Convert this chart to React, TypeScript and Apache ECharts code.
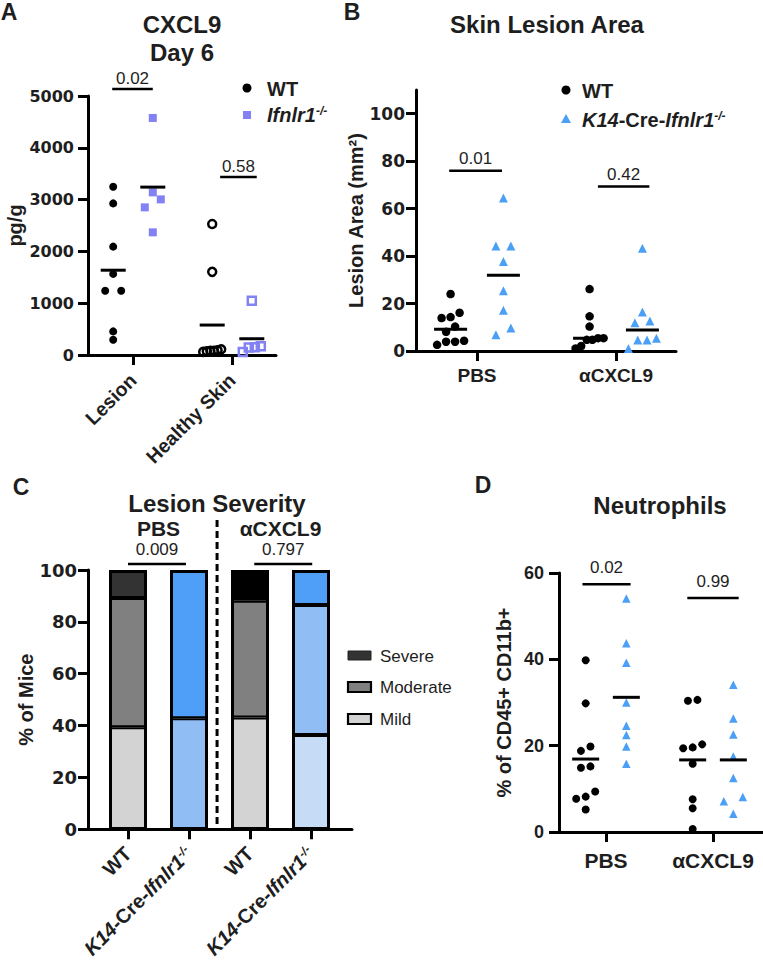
import React, { useEffect, useRef } from 'react';
import * as echarts from 'echarts';

const FONT = '"Liberation Sans", Arial, sans-serif';
const NUM_FONT = '"DejaVu Sans", sans-serif';
const INK = '#1e1e1e';
const BLUE_A = '#8282f5';
const BLUE_T = '#4ba0f5';

// ---------- Panel A : CXCL9 Day 6 (pg/g) ----------
const A_CATEGORIES = ['Lesion', 'Healthy Skin'];
const A_WT_LESION = [3248, 2927, 2092, 1566, 1239, 1239, 456, 295];
const A_KO_LESION = [4576, 3139, 3004, 2850, 2368];
const A_WT_HEALTHY = [2529, 1605, 110, 90, 60, 80, 70, 80];
const A_KO_HEALTHY = [1046, 170, 145, 150, 60];
const A_MEAN_WT = [1637, 578];
const A_MEAN_KO = [3241, 314];
const A_P_LABELS = ['0.02', '0.58'];
const A_P_HEIGHTS = [5135, 3436];
const A_P_SPANS = [[0.79, 1.2], [1.88, 2.25]];

// ---------- Panel B : Skin Lesion Area ----------
const B_CATEGORIES = ['PBS', 'αCXCL9'];
const B_WT = [
  [24, 16.1, 13.9, 14.3, 10.3, 8.1, 2.6, 4.3, 3.9, 3.9],
  [26.1, 14.6, 10.3, 4.7, 5.4, 5.4, 4.7, 1.1, 2.1],
];
const B_KO = [
  [64.5, 44.3, 44.3, 37.7, 25.4, 17.2, 9.7, 6.9],
  [43.3, 16.4, 11.9, 12.6, 5.4, 4.6, 4.6, 1.1],
];
const B_MEDIAN_WT = [9.2, 5.4];
const B_MEDIAN_KO = [31.9, 8.9];
const B_Y_TICKS = [0, 20, 40, 60, 80, 100];
const B_P_LABELS = ['0.01', '0.42'];
const B_P_HEIGHTS = [76, 69.3];
const B_P_SPANS = [[0.8, 1.18], [1.87, 2.24]];

// ---------- Panel C : Lesion Severity (% of mice) ----------
const C_GROUPS = ['WT', 'K14-Cre-Ifnlr1-/-', 'WT', 'K14-Cre-Ifnlr1-/-'];
const C_TREATMENTS = ['PBS', 'αCXCL9'];
const C_MILD = [39.5, 43.0, 43.3, 36.5];
const C_MODERATE = [49.7, 57.0, 44.9, 50.0];
const C_SEVERE = [10.8, 0, 11.8, 13.5];
const C_P_LABELS = ['0.009', '0.797'];
const C_P_HEIGHTS = [102.3, 102.3];
const C_P_SPANS = [[1.0, 1.95], [3.07, 4.02]];

// ---------- Panel D : Neutrophils ----------
const D_CATEGORIES = ['PBS', 'αCXCL9'];
const D_WT = [
  [39.8, 29.8, 19.8, 18.8, 15.2, 14.9, 9.4, 7.7, 8.2, 5.2],
  [30.6, 30.4, 19.4, 20.3, 19.6, 15.8, 7.6, 5.5, 0.7],
];
const D_KO = [
  [54.1, 43.7, 39.2, 30.0, 24.6, 22.5, 19.8, 15.8],
  [34.1, 26.3, 22.6, 17.5, 12.5, 8.1, 7.1, 4.2],
];
const D_MEAN_WT = [16.9, 16.7];
const D_MEAN_KO = [31.2, 16.7];
const D_P_LABELS = ['0.02', '0.99'];
const D_P_HEIGHTS = [57.4, 54.2];
const D_P_SPANS = [[0.78, 1.23], [1.76, 2.24]];

// ---------- styles ----------
const C_MILD_COLORS = ['#d3d3d3', '#91bdf5', '#d3d3d3', '#c6dcf6'];
const C_MOD_COLORS = ['#808080', '#4f9ef7', '#808080', '#91bdf5'];
const C_SEV_COLORS = ['#333333', '#4f9ef7', '#000000', '#4f9ef7'];

// layout (pixels)
const LA = { left: 88, top: 96, width: 188, height: 259, c1: 133, unit: 99, max: 5000 };
const LB = { left: 416, top: 90, width: 260, height: 261, c1: 477, unit: 139, max: 110 };
const LC = { left: 88, top: 570, width: 264, height: 260, c1: 128, unit: 61, max: 100 };
const LD = { left: 559, top: 573, width: 204, height: 259, c1: 606, unit: 107, max: 60 };

const xMin = (L: any) => 1 - (L.c1 - L.left) / L.unit;
const xMax = (L: any) => xMin(L) + L.width / L.unit;
const pxX = (L: any, v: number) => L.left + (v - xMin(L)) * L.unit;

type SwarmOpt = { pxY: number; pxX: number; marker: number; step: number; maxHalf: number };
function swarm(values: number[], center: number, o: SwarmOpt): number[][] {
  const idx = values.map((_, i) => i).sort((a, b) => values[a] - values[b]);
  const rows: number[][] = [];
  let cur: number[] = [];
  idx.forEach((i) => {
    if (cur.length) {
      const prev = values[cur[cur.length - 1]];
      const first = values[cur[0]];
      if ((values[i] - prev) * o.pxY < o.marker && (values[i] - first) * o.pxY < o.marker * 1.6) {
        cur.push(i);
        return;
      }
      rows.push(cur);
    }
    cur = [i];
  });
  if (cur.length) rows.push(cur);
  const out: number[][] = [];
  rows.forEach((r) => {
    const n = r.length;
    const step = n > 1 ? Math.min(o.step, (2 * o.maxHalf) / (n - 1)) : 0;
    r.forEach((i, k) => out.push([center + ((k - (n - 1) / 2) * step) / o.pxX, values[i]]));
  });
  return out;
}

const AXIS_LINE = { color: '#000', width: 3 };

function xAxisFor(idx: number, L: any, labels: string[], labelOpts: any) {
  const ticks = labels.map((_, i) => i + 1);
  return {
    type: 'value', gridIndex: idx, min: xMin(L), max: xMax(L),
    axisLine: { show: true, onZero: false, lineStyle: AXIS_LINE },
    axisTick: { show: true, customValues: ticks, length: 10, lineStyle: AXIS_LINE },
    axisLabel: {
      show: true, customValues: ticks, color: INK, fontFamily: FONT, fontWeight: 'bold',
      formatter: (v: number) => labels[Math.round(v) - 1] ?? '',
      ...labelOpts,
    },
    splitLine: { show: false },
  };
}

function yAxisFor(idx: number, L: any, interval: number, name: string, nameGap: number,
  labelFont: string, labelSize: number, margin: number, ticks?: number[]) {
  const custom = ticks ? { customValues: ticks } : {};
  return {
    type: 'value', gridIndex: idx, min: 0, max: L.max, interval,
    axisLine: { show: true, onZero: false, lineStyle: AXIS_LINE },
    axisTick: { show: true, length: 10, lineStyle: AXIS_LINE, ...custom },
    axisLabel: {
      margin, color: INK, fontFamily: labelFont, fontWeight: 'bold', fontSize: labelSize,
      formatter: (v: number) => String(v), ...custom,
    },
    splitLine: { show: false },
    name, nameLocation: 'middle', nameGap, nameRotate: 90,
    nameTextStyle: { color: INK, fontFamily: FONT, fontWeight: 'bold', fontSize: 20 },
  };
}

function sigSeries(axis: number, spans: number[][], heights: number[], labels: string[], lift: number) {
  return {
    type: 'custom', xAxisIndex: axis, yAxisIndex: axis, clip: false, silent: true, z: 6,
    data: spans.map((s, i) => [s[0], s[1], heights[i]]),
    renderItem: (params: any, api: any) => {
      const y = api.value(2);
      const p1 = api.coord([api.value(0), y]);
      const p2 = api.coord([api.value(1), y]);
      return {
        type: 'group',
        children: [
          { type: 'line', shape: { x1: p1[0], y1: p1[1], x2: p2[0], y2: p2[1] }, style: { stroke: '#000', lineWidth: 2.5 } },
          {
            type: 'text', x: (p1[0] + p2[0]) / 2, y: p1[1] - lift,
            style: {
              text: labels[params.dataIndex], fill: INK, fontSize: 17, fontFamily: FONT, fontWeight: 'normal',
              align: 'center', verticalAlign: 'middle', textAlign: 'center', textVerticalAlign: 'middle',
            },
          },
        ],
      };
    },
  };
}

function scatter(axis: number, data: number[][], symbol: string, size: any, itemStyle: any, z = 3) {
  return {
    type: 'scatter', xAxisIndex: axis, yAxisIndex: axis, symbol, symbolSize: size,
    itemStyle: { opacity: 1, ...itemStyle }, data, silent: true, z,
  };
}

function txt(x: number, y: number, text: string, size: number, extra: any = {}) {
  return {
    type: 'text', x, y, silent: true,
    style: {
      text, fill: INK, fontSize: size, fontFamily: FONT, fontWeight: 'bold',
      align: 'center', verticalAlign: 'middle', textAlign: 'center', textVerticalAlign: 'middle', ...extra,
    },
  };
}

const richFont = (size: number, weight: string, style: string) => ({
  fontSize: size, fontWeight: weight, fontStyle: style, fontFamily: FONT, color: INK, fill: INK,
});

function buildOption() {
  const off = 0.2;
  const aOpt = (marker: number, step: number, maxHalf: number) => ({ pxY: LA.height / LA.max, pxX: LA.unit, marker, step, maxHalf });
  const bOpt = (step: number) => ({ pxY: LB.height / LB.max, pxX: LB.unit, marker: 8.5, step, maxHalf: 14 });
  const dOpt = (step: number) => ({ pxY: LD.height / LD.max, pxX: LD.unit, marker: 8, step, maxHalf: 14 });
  const bo = 0.19;
  const dOff = 0.19;

  const series: any[] = [];
  // ---- A
  series.push(scatter(0, swarm(A_WT_LESION, 1 - off, aOpt(8, 16, 9)), 'circle', 8, { color: '#000' }));
  series.push(scatter(0, swarm(A_KO_LESION, 1 + off, aOpt(8, 16, 9)), 'rect', 8, { color: BLUE_A }));
  series.push(scatter(0, swarm(A_WT_HEALTHY, 2 - off, aOpt(10, 16, 9)), 'circle', 8, { color: 'rgba(255,255,255,0)', borderColor: '#000', borderWidth: 2.5 }));
  series.push(scatter(0, swarm(A_KO_HEALTHY, 2 + off, aOpt(10, 16, 9)), 'rect', 8, { color: 'rgba(255,255,255,0)', borderColor: BLUE_A, borderWidth: 2.5 }));
  series.push(scatter(0, A_MEAN_WT.map((m, i) => [i + 1 - off, m]).concat(A_MEAN_KO.map((m, i) => [i + 1 + off, m])), 'rect', [25, 3], { color: '#000' }, 5));
  series.push(sigSeries(0, A_P_SPANS, A_P_HEIGHTS, A_P_LABELS, 11));

  // ---- B
  B_WT.forEach((vals, g) => series.push(scatter(1, swarm(vals, g + 1 - bo, bOpt(9)), 'circle', 8.5, { color: '#000' })));
  B_KO.forEach((vals, g) => series.push(scatter(1, swarm(vals, g + 1 + bo, bOpt(15)), 'triangle', 9, { color: BLUE_T })));
  series.push(scatter(1, B_MEDIAN_WT.map((m, i) => [i + 1 - bo, m]).concat(B_MEDIAN_KO.map((m, i) => [i + 1 + bo, m])), 'rect', [33, 3], { color: '#000' }, 5));
  series.push(sigSeries(1, B_P_SPANS, B_P_HEIGHTS, B_P_LABELS, 12));

  // ---- C (bars drawn on a hidden category grid aligned with the visible axes)
  const segs = [
    { name: 'Mild', values: C_MILD, colors: C_MILD_COLORS },
    { name: 'Moderate', values: C_MODERATE, colors: C_MOD_COLORS },
    { name: 'Severe', values: C_SEVERE, colors: C_SEV_COLORS },
  ];
  segs.forEach((s) => series.push({
    type: 'bar', name: s.name, xAxisIndex: 4, yAxisIndex: 4, stack: 'severity', barWidth: 38, silent: true,
    itemStyle: { borderColor: '#000', borderWidth: 2, opacity: 1 },
    data: s.values.map((v, i) => ({ value: v === 0 ? '-' : v, itemStyle: { color: s.colors[i] } })),
  }));
  // outer frame of each stacked bar (total of its segments)
  series.push({
    type: 'bar', name: 'frame', xAxisIndex: 4, yAxisIndex: 4, barWidth: 38, barGap: '-100%', silent: true, z: 4,
    itemStyle: { color: 'rgba(0,0,0,0)', borderColor: '#000', borderWidth: 3, opacity: 1 },
    data: C_MILD.map((v, i) => v + C_MODERATE[i] + C_SEVERE[i]),
  });
  series.push(sigSeries(2, C_P_SPANS, C_P_HEIGHTS, C_P_LABELS, 15));

  // ---- D
  D_WT.forEach((vals, g) => series.push(scatter(3, swarm(vals, g + 1 - dOff, dOpt(9.5)), 'circle', 8, { color: '#000' })));
  D_KO.forEach((vals, g) => series.push(scatter(3, swarm(vals, g + 1 + dOff, dOpt(19)), 'triangle', 8.5, { color: BLUE_T })));
  series.push(scatter(3, D_MEAN_WT.map((m, i) => [i + 1 - dOff, m]).concat(D_MEAN_KO.map((m, i) => [i + 1 + dOff, m])), 'rect', [27, 3], { color: '#000' }, 5));
  series.push(sigSeries(3, D_P_SPANS, D_P_HEIGHTS, D_P_LABELS, 17));

  const rich20 = {
    n: richFont(20, 'bold', 'normal'),
    i: richFont(20, 'bold', 'italic'),
    s: { ...richFont(12, 'bold', 'italic'), verticalAlign: 'top', lineHeight: 12 },
  };

  const dividerX = pxX(LC, 2.46);
  const graphics: any[] = [
    txt(9, 12, 'A', 23), txt(352, 12, 'B', 23), txt(21, 487, 'C', 23), txt(483, 485, 'D', 23),
    txt(182, 24, 'CXCL9', 24), txt(182, 52, 'Day 6', 24),
    txt(547, 24, 'Skin Lesion Area', 24),
    txt(217, 503, 'Lesion Severity', 24),
    txt(pxX(LC, 1.5), 528, C_TREATMENTS[0], 21), txt(pxX(LC, 3.5), 528, C_TREATMENTS[1], 21),
    txt(660, 505, 'Neutrophils', 24),
    // legend A
    { type: 'circle', shape: { cx: 247, cy: 88, r: 4.5 }, style: { fill: '#000' }, silent: true },
    { type: 'rect', shape: { x: 243, y: 111, width: 8, height: 8 }, style: { fill: BLUE_A }, silent: true },
    txt(267, 89, 'WT', 20, { align: 'left', textAlign: 'left' }),
    txt(267, 115, '{i|Ifnlr1}{s|-/-}', 20, { align: 'left', textAlign: 'left', rich: rich20 }),
    // legend B
    { type: 'circle', shape: { cx: 566, cy: 90, r: 4.5 }, style: { fill: '#000' }, silent: true },
    { type: 'polygon', shape: { points: [[566, 114], [571, 123], [561, 123]] }, style: { fill: BLUE_T }, silent: true },
    txt(582, 91, 'WT', 20, { align: 'left', textAlign: 'left' }),
    txt(582, 120, '{i|K14}{n|-Cre-}{i|Ifnlr1}{s|-/-}', 20, { align: 'left', textAlign: 'left', rich: rich20 }),
    // legend C
    { type: 'rect', shape: { x: 348, y: 651, width: 23, height: 9 }, style: { fill: '#333333', stroke: '#222', lineWidth: 1 }, silent: true },
    { type: 'rect', shape: { x: 348, y: 682, width: 23, height: 10 }, style: { fill: '#808080', stroke: '#000', lineWidth: 2.2 }, silent: true },
    { type: 'rect', shape: { x: 348, y: 714, width: 23, height: 10 }, style: { fill: '#d3d3d3', stroke: '#000', lineWidth: 2.2 }, silent: true },
    txt(380, 656, 'Severe', 17, { align: 'left', textAlign: 'left', fontWeight: 'normal' }),
    txt(380, 687, 'Moderate', 17, { align: 'left', textAlign: 'left', fontWeight: 'normal' }),
    txt(380, 719, 'Mild', 17, { align: 'left', textAlign: 'left', fontWeight: 'normal' }),
    // divider in C
    { type: 'line', shape: { x1: dividerX, y1: 520, x2: dividerX, y2: 830 }, style: { stroke: '#000', lineWidth: 3, lineDash: [7, 4] }, silent: true },
  ];

  // hidden category grid for the stacked bars of panel C
  const barGrid = {
    left: pxX(LC, 0.5), top: LC.top, width: C_GROUPS.length * LC.unit, height: LC.height,
  };

  return {
    animation: false,
    backgroundColor: '#fff',
    grid: [LA, LB, LC, LD, barGrid].map((L: any) => ({ left: L.left, top: L.top, width: L.width, height: L.height, containLabel: false })),
    xAxis: [
      xAxisFor(0, LA, A_CATEGORIES, { rotate: 45, fontSize: 19.5, margin: 22 }),
      xAxisFor(1, LB, B_CATEGORIES, { fontSize: 19, margin: 15 }),
      xAxisFor(2, LC, C_GROUPS, {
        rotate: 45, fontSize: 20, margin: 21, rich: rich20,
        formatter: (v: number) => {
          const l = C_GROUPS[Math.round(v) - 1] ?? '';
          return l.startsWith('K14') ? '{i|K14}{n|-Cre-}{i|Ifnlr1}{s|-/-}' : `{n|${l}}`;
        },
      }),
      xAxisFor(3, LD, D_CATEGORIES, { fontSize: 21, margin: 18 }),
      { type: 'category', gridIndex: 4, data: C_GROUPS.map((g, i) => `${g}#${i}`), boundaryGap: true, show: false },
    ],
    yAxis: [
      yAxisFor(0, LA, 1000, 'pg/g', 63, NUM_FONT, 16, 14),
      yAxisFor(1, LB, 20, 'Lesion Area (mm²)', 48, NUM_FONT, 17, 11, B_Y_TICKS),
      yAxisFor(2, LC, 20, '% of Mice', 41, NUM_FONT, 18, 11),
      yAxisFor(3, LD, 20, '% of CD45+ CD11b+', 45, FONT, 18, 15),
      { type: 'value', gridIndex: 4, min: 0, max: LC.max, show: false, splitLine: { show: false } },
    ],
    series,
    graphic: { elements: graphics },
  };
}

export default function App() {
  const ref = useRef<HTMLDivElement>(null);
  useEffect(() => {
    if (!ref.current) return;
    const chart = echarts.init(ref.current, null, { renderer: 'svg' });
    chart.setOption(buildOption() as any);
    return () => chart.dispose();
  }, []);
  return (
    <div
      ref={ref}
      style={{ position: 'fixed', left: 0, top: 0, width: 763, height: 961, background: '#fff' }}
    />
  );
}
